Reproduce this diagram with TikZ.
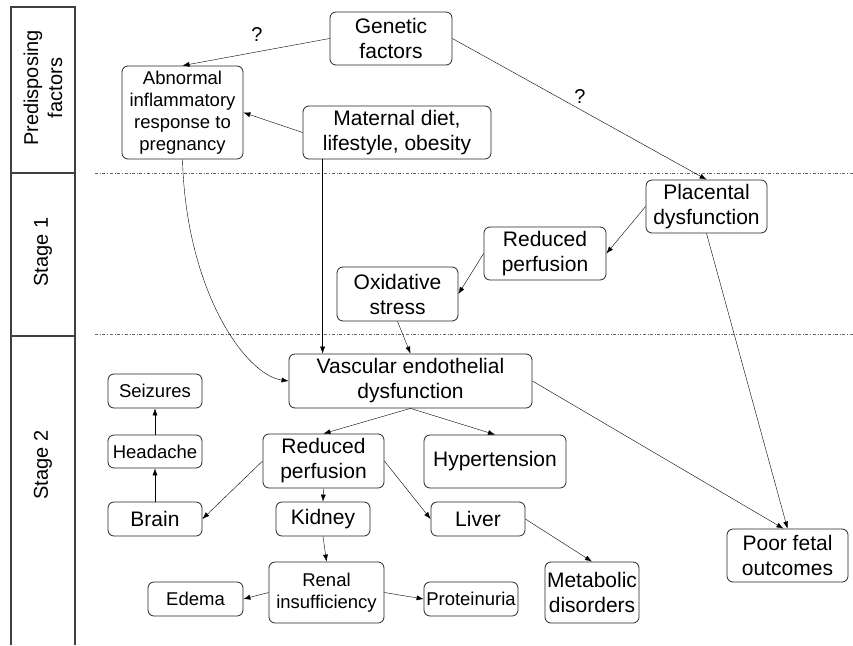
\documentclass[tikz,border=0pt]{standalone}
\usepackage{fontspec}
\setmainfont{Liberation Sans}
\usetikzlibrary{arrows.meta}
\begin{document}
\begin{tikzpicture}[x=1pt, y=-1pt, >={Latex[length=7pt,width=5pt]},
  box/.style={draw=black!85, line width=0.8pt, rounded corners=6pt, align=center, inner sep=0pt},
  big/.style={font=\fontsize{21}{25}\selectfont},
  small/.style={font=\fontsize{18.5}{22}\selectfont},
  side/.style={font=\fontsize{20}{24}\selectfont, rotate=90, align=center},
  stageline/.style={draw=black!60, dash dot, line width=0.6pt}]
\useasboundingbox (0,0) rectangle (853,645);
% side bar
\draw[black!75, line width=1.3pt] (11,645) -- (11,7) -- (75,7) -- (75,645);
\draw[black!75, line width=1.3pt] (11,173) -- (75,173) (11,336) -- (75,336);
\node[side] (predisp) at (43,88) {Predisposing\\factors};
\node[side] (stageone) at (43,252) {Stage 1};
\node[side] (stagetwo) at (43,465) {Stage 2};
\draw[stageline] (95,173) -- (853,173);
\draw[stageline] (95,334) -- (853,334);
% predisposing factors
\node[box, big, minimum width=122pt, minimum height=53pt] (genetic) at (391,38.5) {Genetic\\factors};
\node[box, small, minimum width=121pt, minimum height=93pt] (abnormal) at (182.5,112.5) {Abnormal\\inflammatory\\response to\\pregnancy};
\node[box, big, minimum width=188pt, minimum height=53pt] (maternal) at (397,132.5) {Maternal diet,\\lifestyle, obesity};
% stage 1
\node[box, big, minimum width=121pt, minimum height=53pt] (placental) at (706.5,206.5) {Placental\\dysfunction};
\node[box, big, minimum width=122pt, minimum height=53pt] (reducedone) at (545,253.5) {Reduced\\perfusion};
\node[box, big, minimum width=121pt, minimum height=54pt] (oxidative) at (397.5,294) {Oxidative\\stress};
% stage 2
\node[box, big, minimum width=243pt, minimum height=54pt] (vascular) at (410.5,381) {Vascular endothelial\\dysfunction};
\node[box, small, minimum width=94pt, minimum height=34pt] (seizures) at (155,391) {Seizures};
\node[box, small, minimum width=94pt, minimum height=33pt] (headache) at (155,451.5) {Headache};
\node[box, big, minimum width=94pt, minimum height=34pt] (brain) at (155,519) {Brain};
\node[box, big, minimum width=121pt, minimum height=54pt] (reducedtwo) at (323.5,461) {Reduced\\perfusion};
\node[box, big, minimum width=142pt, minimum height=53pt] (hypertension) at (495,461.5) {Hypertension};
\node[box, big, minimum width=94pt, minimum height=34pt] (kidney) at (323,519) {Kidney};
\node[box, big, minimum width=94pt, minimum height=34pt] (liver) at (478,519) {Liver};
\node[box, small, minimum width=115pt, minimum height=61pt] (renal) at (326.5,592.5) {Renal\\insufficiency};
\node[box, small, minimum width=95pt, minimum height=34pt] (edema) at (195.5,599) {Edema};
\node[box, small, minimum width=94pt, minimum height=34pt] (proteinuria) at (471,599) {Proteinuria};
\node[box, big, minimum width=94pt, minimum height=61pt] (metabolic) at (592,592.5) {Metabolic\\disorders};
\node[box, big, minimum width=121pt, minimum height=53pt] (poor) at (787.5,555.5) {Poor fetal\\outcomes};
% question marks
\node[font=\fontsize{20}{24}\selectfont] (qleft) at (257,35) {?};
\node[font=\fontsize{20}{24}\selectfont] (qright) at (580,97) {?};
% arrows
\draw[->] (genetic.west) -- (abnormal.north);
\draw[->] (genetic.east) -- (placental.north);
\draw[->] (maternal.west) -- (abnormal.east);
\draw[->] ([xshift=20pt]maternal.south west) -- ([xshift=20pt]maternal.south west |- vascular.north);
\draw[->] (abnormal.south) .. controls (186,290) and (245,375) .. (vascular.west);
\draw[->] (placental.west) -- (reducedone.east);
\draw[->] (reducedone.west) -- (oxidative.east);
\draw[->] (oxidative.south) -- (vascular.north);
\draw[->] (placental.south) -- (poor.north);
\draw[->] (vascular.east) -- ([xshift=-4pt]poor.north);
\draw[->] (vascular.south) -- (reducedtwo.north);
\draw[->] (vascular.south) -- (hypertension.north);
\draw[->] (reducedtwo.west) -- (brain.east);
\draw[->] (reducedtwo.south) -- (kidney.north);
\draw[->] (reducedtwo.east) -- (liver.west);
\draw[->] (brain.north) -- (headache.south);
\draw[->] (headache.north) -- (seizures.south);
\draw[->] (kidney.south) -- (renal.north);
\draw[->] (renal.west) -- (edema.east);
\draw[->] (renal.east) -- (proteinuria.west);
\draw[->] (liver.east) -- (metabolic.north);
\end{tikzpicture}
\end{document}
